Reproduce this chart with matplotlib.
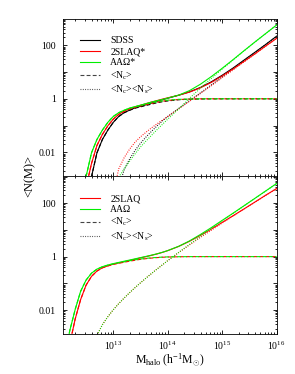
import numpy as np
import matplotlib
matplotlib.use("Agg")
import matplotlib.pyplot as plt
from matplotlib.ticker import LogLocator, FuncFormatter, NullFormatter
from matplotlib.lines import Line2D

plt.rcParams['font.family'] = ['Liberation Serif', 'DejaVu Serif']
plt.rcParams['mathtext.fontset'] = 'custom'
plt.rcParams['mathtext.rm'] = 'Liberation Serif'
plt.rcParams['mathtext.it'] = 'Liberation Serif:italic'
plt.rcParams['mathtext.bf'] = 'Liberation Serif:bold'

# ---------------- data (log10 values) ----------------
# top panel
logm_top = [12.4, 12.5, 12.6, 12.7, 12.8, 12.9, 13.0, 13.1, 13.2, 13.3, 13.4, 13.5,
            13.6, 13.7, 13.8, 13.9, 14.0, 14.2, 14.4, 14.6, 14.8, 15.0, 15.2, 15.4,
            15.6, 15.8, 16.0]
sdss_nc = [-4.7, -3.8, -2.91, -2.02, -1.52, -1.17, -0.88, -0.66, -0.52, -0.43, -0.35, -0.30,
           -0.25, -0.20, -0.15, -0.11, -0.08, -0.035, -0.015, -0.005, -0.002, 0, 0, 0,
           0, 0, 0]
sdss_sat = [-7, -6.5, -6, -5.5, -5, -4.5, -4.0, -3.3, -2.65, -2.25, -1.93, -1.66,
            -1.43, -1.22, -1.02, -0.83, -0.66, -0.36, -0.07, 0.22, 0.52, 0.82, 1.12, 1.43,
            1.73, 2.03, 2.34]
sdss_tot = [-4.7, -3.8, -2.91, -2.02, -1.52, -1.17, -0.88, -0.66, -0.517, -0.423, -0.338, -0.281,
            -0.222, -0.160, -0.095, -0.034, 0.022, 0.134, 0.259, 0.423, 0.635, 0.881, 1.152, 1.446,
            1.738, 2.034, 2.342]
slaqs_nc = [-4.2, -3.31, -2.42, -1.745, -1.33, -1.01, -0.76, -0.58, -0.47, -0.386, -0.32, -0.27,
            -0.22, -0.17, -0.13, -0.09, -0.06, -0.027, -0.012, -0.002, 0, 0, 0, 0,
            0, 0, 0]
slaqs_sat = [-7, -6.5, -6, -5.5, -5, -4.5, -3.5, -2.62, -2.20, -1.88, -1.62, -1.42,
             -1.25, -1.09, -0.94, -0.80, -0.66, -0.38, -0.09, 0.20, 0.49, 0.79, 1.08, 1.38,
             1.67, 1.97, 2.26]
slaqs_tot = [-4.2, -3.31, -2.42, -1.745, -1.33, -1.01, -0.76, -0.577, -0.462, -0.372, -0.298, -0.240,
             -0.181, -0.121, -0.068, -0.013, 0.037, 0.133, 0.252, 0.412, 0.612, 0.855, 1.115, 1.398,
             1.680, 1.975, 2.262]
aaos_nc = [-3.8, -2.91, -2.02, -1.52, -1.17, -0.88, -0.66, -0.52, -0.43, -0.35, -0.30, -0.25,
           -0.20, -0.15, -0.11, -0.08, -0.05, -0.02, -0.01, 0, 0, 0, 0, 0,
           0, 0, 0]
aaos_sat = [-6, -5.5, -5, -4.6, -4.3, -4.0, -3.5, -2.93, -2.62, -2.33, -2.06, -1.80,
            -1.58, -1.37, -1.16, -0.96, -0.76, -0.38, 0.02, 0.40, 0.76, 1.11, 1.45, 1.79,
            2.12, 2.44, 2.76]
aaos_tot = [-3.8, -2.91, -2.02, -1.52, -1.17, -0.88, -0.66, -0.518, -0.427, -0.345, -0.293, -0.238,
            -0.182, -0.124, -0.073, -0.026, 0.027, 0.137, 0.306, 0.545, 0.830, 1.142, 1.465, 1.797,
            2.123, 2.442, 2.761]

# bottom panel
logm_bot = [12.0, 12.1, 12.2, 12.3, 12.4, 12.5, 12.6, 12.7, 12.8, 12.9, 13.0, 13.1, 13.2,
            13.3, 13.4, 13.5, 13.6, 13.7, 13.8, 13.9, 14.0, 14.2, 14.4, 14.6, 14.8, 15.0,
            15.2, 15.4, 15.6, 15.8, 16.0]
slaq_nc = [-5.5, -4.4, -3.28, -2.34, -1.61, -1.07, -0.74, -0.54, -0.42, -0.35, -0.29, -0.25, -0.21,
           -0.17, -0.136, -0.10, -0.076, -0.054, -0.037, -0.023, -0.014, -0.005, 0, 0, 0, 0,
           0, 0, 0, 0, 0]
slaq_sat = [-6, -5.5, -5, -4.6, -4.3, -4.0, -3.5, -2.95, -2.55, -2.25, -1.99, -1.76, -1.55,
            -1.35, -1.16, -0.98, -0.805, -0.635, -0.47, -0.31, -0.15, 0.15, 0.44, 0.72, 0.99, 1.26,
            1.52, 1.78, 2.04, 2.30, 2.55]
slaq_tot = [-5.5, -4.4, -3.28, -2.34, -1.61, -1.07, -0.74, -0.539, -0.417, -0.345, -0.281, -0.237, -0.190,
            -0.142, -0.097, -0.046, -0.002, 0.047, 0.099, 0.158, 0.224, 0.381, 0.575, 0.796, 1.032, 1.283,
            1.533, 1.787, 2.044, 2.302, 2.551]
aao_nc = [-5.0, -3.9, -2.78, -1.98, -1.30, -0.88, -0.62, -0.47, -0.38, -0.32, -0.27, -0.23, -0.19,
          -0.155, -0.12, -0.09, -0.065, -0.045, -0.03, -0.018, -0.01, -0.003, 0, 0, 0, 0,
          0, 0, 0, 0, 0]
aao_sat = [-6, -5.5, -5, -4.6, -4.3, -4.0, -3.5, -2.95, -2.55, -2.25, -1.99, -1.76, -1.55,
           -1.35, -1.16, -0.98, -0.805, -0.635, -0.47, -0.31, -0.15, 0.16, 0.46, 0.76, 1.05, 1.34,
           1.62, 1.90, 2.18, 2.46, 2.74]
aao_tot = [-5.0, -3.9, -2.78, -1.98, -1.30, -0.88, -0.62, -0.468, -0.377, -0.314, -0.262, -0.217, -0.171,
           -0.128, -0.082, -0.037, 0.008, 0.055, 0.104, 0.161, 0.227, 0.387, 0.589, 0.830, 1.087, 1.359,
           1.629, 1.905, 2.183, 2.462, 2.741]

top_labels = ['SDSS', '2SLAQ*', 'AA\u03a9*']
bot_labels = ['2SLAQ', 'AA\u03a9']
nc_label = r'<N$_{\rm c}$>'
sat_label = r'<N$_{\rm c}$><N$_{\rm s}$>'
ytick_text = {-2: '0.01', 0: '1', 2: '100'}
xtick_exp = [13, 14, 15, 16]

# ---------------- styling ----------------
BLACK = '#000000'
RED = '#ff0000'
GREEN = '#00ee00'
LW = 0.8
DASH = (0, (3.5, 2.0))
DOT = (0, (0.8, 1.3))

fig = plt.figure(figsize=(2.95, 3.74), dpi=100)
ax1 = fig.add_axes([0.2125, 0.5294, 0.7254, 0.4190])
ax2 = fig.add_axes([0.2125, 0.1061, 0.7254, 0.4233])


def draw(ax, logm, nc, sat, tot, color):
    m = 10 ** np.array(logm)
    ax.plot(m, 10 ** np.array(nc), color=color, lw=LW, ls=DASH)
    ax.plot(m, 10 ** np.array(sat), color=color, lw=LW, ls=DOT)
    ax.plot(m, 10 ** np.array(tot), color=color, lw=LW, ls='-')


draw(ax1, logm_top, sdss_nc, sdss_sat, sdss_tot, BLACK)
draw(ax1, logm_top, slaqs_nc, slaqs_sat, slaqs_tot, RED)
draw(ax1, logm_top, aaos_nc, aaos_sat, aaos_tot, GREEN)

draw(ax2, logm_bot, slaq_nc, slaq_sat, slaq_tot, RED)
draw(ax2, logm_bot, aao_nc, aao_sat, aao_tot, GREEN)

ax1.set_ylim(10 ** -2.886, 10 ** 2.972)
ax2.set_ylim(10 ** -2.91, 10 ** 3.02)

yfmt = FuncFormatter(lambda v, p: ytick_text.get(int(round(np.log10(v))), ''))
xfmt = FuncFormatter(lambda v, p: r'$10^{%d}$' % int(round(np.log10(v)))
                     if int(round(np.log10(v))) in xtick_exp else '')

for ax in (ax1, ax2):
    ax.set_xscale('log')
    ax.set_yscale('log')
    ax.set_xlim(10 ** 12.071, 1e16)
    ax.xaxis.set_major_locator(LogLocator(base=10, numticks=20))
    ax.xaxis.set_minor_locator(LogLocator(base=10, subs=np.arange(2, 10), numticks=20))
    ax.yaxis.set_major_locator(LogLocator(base=10, numticks=20))
    ax.yaxis.set_minor_locator(LogLocator(base=10, subs=np.arange(2, 10), numticks=20))
    ax.yaxis.set_major_formatter(yfmt)
    ax.yaxis.set_minor_formatter(NullFormatter())
    ax.xaxis.set_minor_formatter(NullFormatter())
    ax.tick_params(which='both', direction='in', top=True, right=True, width=0.6,
                   labelsize=7)
    ax.tick_params(which='major', length=3.0)
    ax.tick_params(which='minor', length=1.6)
    ax.tick_params(axis='y', pad=5)
    ax.tick_params(axis='x', pad=3.5)
    for s in ax.spines.values():
        s.set_linewidth(0.6)

ax1.xaxis.set_major_formatter(NullFormatter())
ax2.xaxis.set_major_formatter(xfmt)

# legends
gray = '#444444'
h_top = [Line2D([], [], color=BLACK, lw=LW),
         Line2D([], [], color=RED, lw=LW),
         Line2D([], [], color=GREEN, lw=LW),
         Line2D([], [], color=gray, lw=LW, ls=DASH),
         Line2D([], [], color=gray, lw=LW, ls=DOT)]
ax1.legend(h_top, top_labels + [nc_label, sat_label], loc='upper left',
           bbox_to_anchor=(0.081, 0.892), frameon=False, fontsize=7,
           handlelength=2.1, handletextpad=1.0, labelspacing=0.2,
           borderpad=0, borderaxespad=0)
h_bot = [Line2D([], [], color=RED, lw=LW),
         Line2D([], [], color=GREEN, lw=LW),
         Line2D([], [], color=gray, lw=LW, ls=DASH),
         Line2D([], [], color=gray, lw=LW, ls=DOT)]
ax2.legend(h_bot, bot_labels + [nc_label, sat_label], loc='upper left',
           bbox_to_anchor=(0.081, 0.886), frameon=False, fontsize=7,
           handlelength=2.1, handletextpad=1.0, labelspacing=0.2,
           borderpad=0, borderaxespad=0)

ax2.set_xlabel(r'M$_{\rm halo}$ (h$^{-1}$M$_{\odot}$)', fontsize=8.5, labelpad=0)
fig.text(0.10, 0.5294, '<N(M)>', rotation=90, fontsize=9, ha='center', va='center')

fig.savefig('out.png', dpi=100)
